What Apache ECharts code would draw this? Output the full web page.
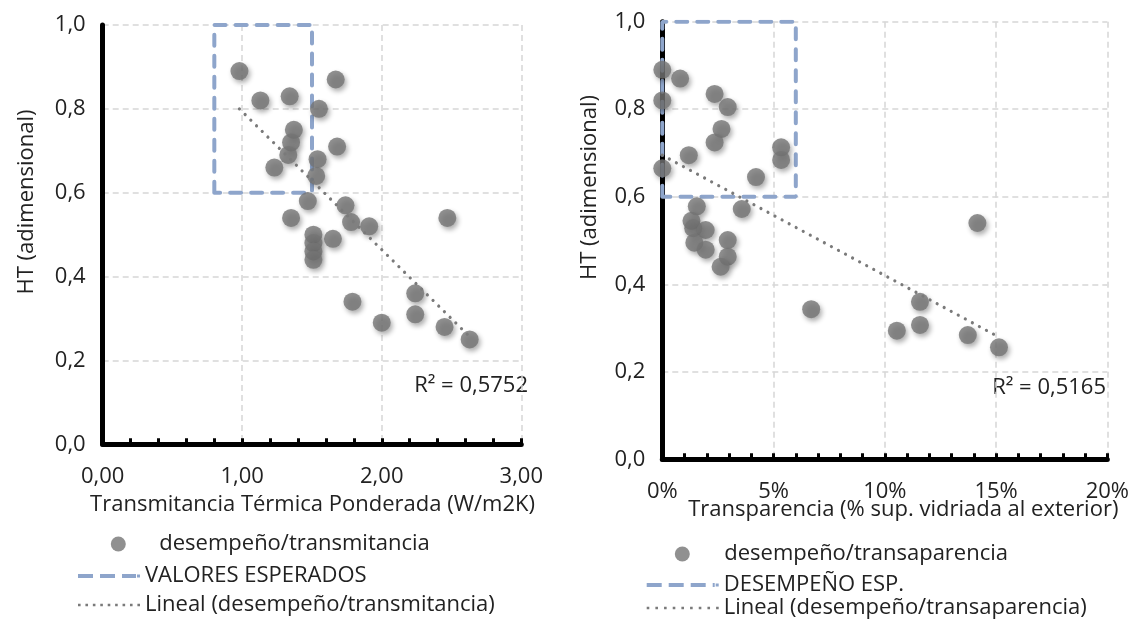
<!DOCTYPE html>
<html>
<head>
<meta charset="utf-8">
<script src="https://cdn.jsdelivr.net/npm/echarts@6/dist/echarts.min.js"></script>
<style>
  html, body { margin: 0; padding: 0; background: #ffffff; }
  #wrap { position: relative; width: 1132px; height: 628px; overflow: hidden; }
  #transChart { position: absolute; left: 0; top: 0; width: 546px; height: 628px; }
  #glassChart { position: absolute; left: 546px; top: 0; width: 586px; height: 628px; }
</style>
</head>
<body>
<div id="wrap">
  <div id="transChart"></div>
  <div id="glassChart"></div>
</div>
<script>
// --- datos ---
const transmitancia = [0.98, 1.13, 1.34, 1.67, 1.55, 1.37, 1.35, 1.33, 1.23, 1.54, 1.68, 1.53, 1.47, 1.35, 1.74,
  1.78, 1.91, 2.47, 1.51, 1.51, 1.51, 1.51, 1.65, 1.79, 2.00, 2.24, 2.24, 2.45, 2.63];
const htTransmitancia = [0.89, 0.82, 0.83, 0.87, 0.80, 0.75, 0.72, 0.69, 0.66, 0.68, 0.71, 0.64, 0.58, 0.54, 0.57,
  0.53, 0.52, 0.54, 0.50, 0.48, 0.46, 0.44, 0.49, 0.34, 0.29, 0.36, 0.31, 0.28, 0.25];

const transparencia = [0, 0.8, 0, 2.35, 2.94, 2.66, 2.35, 1.19, 0, 5.34, 5.34, 4.21, 1.55, 3.57, 1.31,
  1.39, 1.95, 1.44, 1.95, 2.94, 2.94, 2.62, 6.69, 14.16, 11.58, 11.58, 10.54, 13.73, 15.13];
const htTransparencia = [0.89, 0.87, 0.82, 0.835, 0.805, 0.755, 0.724, 0.695, 0.665, 0.713, 0.684, 0.645, 0.578, 0.572, 0.545,
  0.528, 0.524, 0.495, 0.479, 0.501, 0.463, 0.44, 0.343, 0.54, 0.36, 0.307, 0.294, 0.284, 0.256];

const boxTransX = [0.8, 1.5];
const boxTransY = [0.6, 1.0];
const boxGlassX = [0, 6];
const boxGlassY = [0.6, 1.0];

const trendTransX = [0.98, 2.62];
const trendTransY = [0.80, 0.26];
const trendGlassX = [0, 15.1];
const trendGlassY = [0.695, 0.28];

const r2Trans = "R² = 0,5752";
const r2Glass = "R² = 0,5165";

const FONT = "'Open Sans', 'Noto Sans', sans-serif";
const TEXT = "#222222";
const POINT = "#747474";
const BOX = "#8ea5cb";
const TREND = "#7a7a7a";

const charts = new Map();

function initChart(id) {
  const element = document.getElementById(id);
  if (!element || !window.echarts) return null;
  const old = charts.get(id);
  if (old) old.dispose();
  const instance = echarts.init(element, null, { renderer: "canvas" });
  charts.set(id, instance);
  return instance;
}

function pairs(xs, ys) {
  return xs.map((x, i) => [x, ys[i]]);
}

function boxOutline(xs, ys) {
  return [[xs[0], ys[0]], [xs[0], ys[1]], [xs[1], ys[1]], [xs[1], ys[0]], [xs[0], ys[0]]];
}

// iconos de leyenda
function dashIcon(width) {
  let d = "";
  let x = 0;
  while (x < width - 4) {
    const w = Math.min(15, width - 4 - x);
    d += "M" + x + ",0h" + w + "v4h-" + w + "z";
    x += 22;
  }
  d += "M" + (width - 3) + ",0.5h3v3h-3z";
  return "path://" + d;
}

function dotIcon(width) {
  let d = "";
  const n = 9;
  const step = (width - 2.6) / (n - 1);
  for (let i = 0; i < n; i++) {
    const x = (i * step).toFixed(2);
    d += "M" + x + ",0h2.6v2.6h-2.6z";
  }
  return "path://" + d;
}

function legendItem(name, icon, left, top, w, h, keep) {
  return {
    data: [{ name: name, icon: icon }],
    left: left,
    top: top,
    padding: 0,
    itemWidth: w,
    itemHeight: h,
    symbolKeepAspect: keep,
    selectedMode: false,
    itemStyle: { borderWidth: 0, shadowBlur: 0, shadowColor: "transparent" },
    textStyle: { fontFamily: FONT, fontSize: 22, lineHeight: 22, color: TEXT },
  };
}

function title(text, x, y, rotate) {
  return {
    type: "text",
    x: x,
    y: y,
    rotation: rotate ? Math.PI / 2 : 0,
    style: {
      text: text,
      fill: TEXT,
      font: "22px " + FONT,
      align: "center",
      verticalAlign: "middle",
    },
  };
}

function r2Label(text, x, y) {
  return {
    type: "text",
    x: x,
    y: y,
    style: { text: text, fill: TEXT, font: "22px " + FONT, align: "right", verticalAlign: "middle" },
  };
}

function baseAxes(xMax, xInterval, xFormatter) {
  const grid = { lineStyle: { color: "#d6d6d6", width: 1.5, type: [6, 4] } };
  return {
    xAxis: {
      type: "value",
      min: 0,
      max: xMax,
      interval: xInterval,
      axisLine: { show: true, onZero: false, lineStyle: { color: "#000", width: 5 } },
      axisTick: { show: true, inside: true, length: 6, lineStyle: { color: "#000", width: 3 } },
      minorTick: { show: true, splitNumber: 5, length: 6, lineStyle: { color: "#000", width: 3 } },
      axisLabel: { formatter: xFormatter, margin: 21, fontFamily: FONT, fontSize: 22, color: TEXT },
      splitLine: Object.assign({ show: true }, grid),
    },
    yAxis: {
      type: "value",
      min: 0,
      max: 1,
      interval: 0.2,
      axisLine: { show: true, lineStyle: { color: "#000", width: 5 } },
      axisTick: { show: false },
      axisLabel: {
        formatter: (v) => v.toFixed(1).replace(".", ","),
        margin: 17,
        fontFamily: FONT,
        fontSize: 22,
        color: TEXT,
      },
      splitLine: Object.assign({ show: true }, grid),
    },
  };
}

function buildSeries(names, xs, ys, boxX, boxY, trendX, trendY) {
  return [
    {
      name: names[1],
      type: "line",
      data: boxOutline(boxX, boxY),
      symbol: "none",
      z: 1,
      lineStyle: { color: BOX, width: 4, type: [11, 10], cap: "round" },
      itemStyle: { color: BOX },
    },
    {
      name: names[0],
      type: "scatter",
      data: pairs(xs, ys),
      symbolSize: 18,
      z: 3,
      itemStyle: {
        color: POINT,
        shadowBlur: 5,
        shadowOffsetX: 2,
        shadowOffsetY: 3,
        shadowColor: "rgba(0,0,0,0.4)",
      },
    },
    {
      name: names[2],
      type: "line",
      data: pairs(trendX, trendY),
      symbol: "none",
      z: 4,
      lineStyle: { color: TREND, width: 3.2, type: [0.01, 8], cap: "round" },
      itemStyle: { color: TREND },
    },
  ];
}

function renderTransChart() {
  const chart = initChart("transChart");
  if (!chart) return;
  const names = ["desempeño/transmitancia", "VALORES ESPERADOS", "Lineal (desempeño/transmitancia)"];
  const axes = baseAxes(3, 1, (v) => v.toFixed(2).replace(".", ","));
  chart.setOption({
    animation: false,
    backgroundColor: "#ffffff",
    grid: { left: 102.7, right: 10, top: 25, bottom: 183.7 },
    xAxis: axes.xAxis,
    yAxis: axes.yAxis,
    legend: [
      legendItem(names[0], "circle", 110.8, 533, 72, 15, true),
      legendItem(names[1], dashIcon(62), 78, 565, 62, 4, false),
      legendItem(names[2], dotIcon(62), 78, 594, 62, 2.6, false),
    ],
    graphic: [
      title("HT (adimensional)", 27, 202, true),
      title("Transmitancia Térmica Ponderada (W/m2K)", 312.5, 505, false),
      r2Label(r2Trans, 528, 386),
    ],
    series: buildSeries(names, transmitancia, htTransmitancia, boxTransX, boxTransY, trendTransX, trendTransY),
  });
}

function renderGlassChart() {
  const chart = initChart("glassChart");
  if (!chart) return;
  const names = ["desempeño/transaparencia", "DESEMPEÑO ESP.", "Lineal (desempeño/transaparencia)"];
  const axes = baseAxes(20, 5, (v) => v + "%");
  chart.setOption({
    animation: false,
    backgroundColor: "#ffffff",
    grid: { left: 116.3, right: 19.3, top: 21.7, bottom: 168.7 },
    xAxis: axes.xAxis,
    yAxis: axes.yAxis,
    legend: [
      legendItem(names[0], "circle", 128.8, 543, 74, 15, true),
      legendItem(names[1], dashIcon(72), 100.7, 574, 72, 4, false),
      legendItem(names[2], dotIcon(72), 100.7, 597, 72, 2.6, false),
    ],
    graphic: [
      title("HT (adimensional)", 43.7, 187.5, true),
      title("Transparencia (% sup. vidriada al exterior)", 357.3, 510, false),
      r2Label(r2Glass, 560, 388),
    ],
    series: buildSeries(names, transparencia, htTransparencia, boxGlassX, boxGlassY, trendGlassX, trendGlassY),
  });
}

renderTransChart();
renderGlassChart();
</script>
</body>
</html>
